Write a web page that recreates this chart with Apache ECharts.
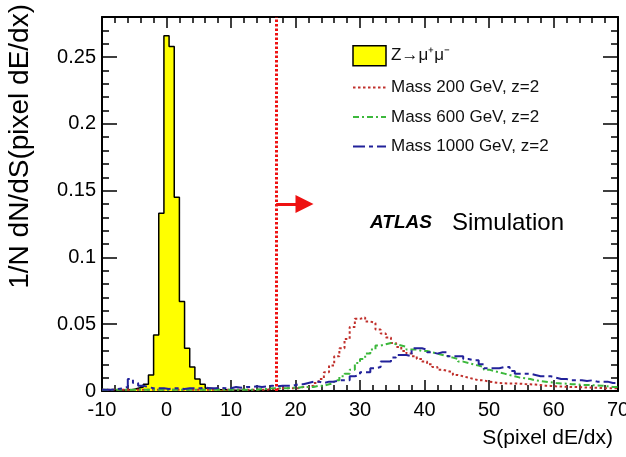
<!DOCTYPE html>
<html>
<head>
<meta charset="utf-8">
<script src="https://cdn.jsdelivr.net/npm/echarts@6/dist/echarts.min.js"></script>
<style>
  html, body { margin: 0; padding: 0; background: #fff; }
  #chart { width: 626px; height: 457px; }
</style>
</head>
<body>
<div id="chart"></div>
<script>
// binning: 100 bins of 0.8 from -10 to 70
const binLow = -10;
const binWidth = 0.8;

const zmumu = [
    0, 0, 0, 0.0005, 0.001, 0.001, 0.002, 0.003, 0.005, 0.012,
    0.042, 0.133, 0.266, 0.258, 0.145, 0.067, 0.032, 0.018, 0.009, 0.005,
    0.002, 0.0015, 0.001, 0.001, 0.0005, 0.0005, 0.0005, 0, 0.0005, 0,
    0, 0, 0, 0, 0, 0, 0, 0, 0, 0,
    0, 0, 0, 0, 0, 0, 0, 0, 0, 0,
    0, 0, 0, 0, 0, 0, 0, 0, 0, 0,
    0, 0, 0, 0, 0, 0, 0, 0, 0, 0,
    0, 0, 0, 0, 0, 0, 0, 0, 0, 0,
    0, 0, 0, 0, 0, 0, 0, 0, 0, 0,
    0, 0, 0, 0, 0, 0, 0, 0, 0, 0
];

const mass200 = [
    0.001, 0.001, 0.001, 0.001, 0.001, 0.001, 0.001, 0.001, 0.001, 0.001,
    0.001, 0.001, 0.001, 0.001, 0.001, 0.001, 0.001, 0.001, 0.001, 0.001,
    0.001, 0.001, 0.001, 0.001, 0.001, 0.001, 0.001, 0.001, 0.001, 0.001,
    0.001, 0.001, 0.0015, 0.0015, 0.002, 0.002, 0.002, 0.002, 0.003, 0.003,
    0.004, 0.006, 0.009, 0.014, 0.019, 0.026, 0.032, 0.039, 0.048, 0.054,
    0.055, 0.052, 0.051, 0.046, 0.043, 0.040, 0.036, 0.033, 0.030, 0.028,
    0.026, 0.024, 0.022, 0.020, 0.018, 0.016, 0.015, 0.014, 0.012, 0.011,
    0.010, 0.009, 0.008, 0.008, 0.007, 0.0065, 0.006, 0.0058, 0.0056, 0.0056,
    0.0055, 0.0052, 0.005, 0.0048, 0.0045, 0.004, 0.0038, 0.0035, 0.0033, 0.0032,
    0.003, 0.003, 0.0028, 0.0026, 0.0025, 0.0024, 0.0022, 0.002, 0.002, 0.002
];

const mass600 = [
    0.001, 0.001, 0.001, 0.001, 0.001, 0.001, 0.001, 0.001, 0.001, 0.001,
    0.001, 0.001, 0.001, 0.001, 0.001, 0.001, 0.001, 0.001, 0.001, 0.001,
    0.001, 0.001, 0.001, 0.001, 0.001, 0.001, 0.001, 0.001, 0.001, 0.001,
    0.0015, 0.0015, 0.002, 0.002, 0.002, 0.002, 0.0025, 0.0025, 0.003, 0.003,
    0.003, 0.004, 0.004, 0.005, 0.006, 0.008, 0.011, 0.013, 0.016, 0.021,
    0.024, 0.028, 0.031, 0.034, 0.035, 0.036, 0.035, 0.034, 0.033, 0.031,
    0.031, 0.030, 0.030, 0.029, 0.028, 0.027, 0.026, 0.025, 0.024, 0.022,
    0.021, 0.020, 0.019, 0.018, 0.016, 0.015, 0.014, 0.013, 0.012, 0.011,
    0.010, 0.0095, 0.009, 0.008, 0.0075, 0.007, 0.0065, 0.006, 0.0056, 0.0055,
    0.005, 0.005, 0.0046, 0.0045, 0.0043, 0.0042, 0.004, 0.0035, 0.003, 0.003
];

const mass1000 = [
    0.001, 0.001, 0.0015, 0.002, 0.003, 0.009, 0.006, 0.004, 0.003, 0.002,
    0.002, 0.002, 0.0015, 0.002, 0.002, 0.0015, 0.002, 0.002, 0.002, 0.0025,
    0.002, 0.002, 0.0025, 0.002, 0.002, 0.003, 0.0025, 0.003, 0.003, 0.0035,
    0.003, 0.0035, 0.004, 0.0035, 0.004, 0.004, 0.004, 0.005, 0.005, 0.006,
    0.007, 0.007, 0.006, 0.007, 0.007, 0.008, 0.008, 0.008, 0.011, 0.012,
    0.014, 0.014, 0.017, 0.018, 0.022, 0.022, 0.025, 0.027, 0.027, 0.026,
    0.032, 0.032, 0.031, 0.029, 0.028, 0.029, 0.029, 0.026, 0.026, 0.026,
    0.024, 0.023, 0.023, 0.020, 0.017, 0.017, 0.017, 0.018, 0.018, 0.015,
    0.013, 0.013, 0.013, 0.012, 0.011, 0.011, 0.011, 0.010, 0.009, 0.009,
    0.008, 0.008, 0.008, 0.0075, 0.008, 0.007, 0.007, 0.007, 0.006, 0.006
];

const seriesNames = ["Z→μ⁺μ⁻", "Mass 200 GeV, z=2", "Mass 600 GeV, z=2", "Mass 1000 GeV, z=2"];
const cutValue = 17;
const arrowY = 0.14;
const arrowEnd = 21.4;

const font = "Liberation Sans, Arial, Helvetica, sans-serif";

// step points at bin edges, last edge repeats the last value
const toSteps = (values) => {
    const points = values.map((v, i) => [binLow + i * binWidth, v]);
    points.push([binLow + values.length * binWidth, values[values.length - 1]]);
    return points;
};

const chart = echarts.init(document.getElementById("chart"), null, { renderer: "canvas" });

const frameLine = { show: true, onZero: false, lineStyle: { color: "#000", width: 2 } };

const xCommon = {
    type: "value",
    min: -10,
    max: 70,
    interval: 10,
    axisLine: frameLine,
    axisTick: { inside: true, length: 11, lineStyle: { color: "#000", width: 1.5 } },
    minorTick: { show: true, splitNumber: 5, length: 6, lineStyle: { color: "#000", width: 1.5 } },
    splitLine: { show: false }
};

const yMajor = {
    type: "value",
    min: 0,
    max: 0.28,
    interval: 0.05,
    axisLine: frameLine,
    axisTick: { inside: true, length: 15, lineStyle: { color: "#000", width: 1.5 } },
    splitLine: { show: false }
};

const yMinor = {
    type: "value",
    min: 0,
    max: 0.28,
    interval: 0.01,
    axisLine: { show: false, onZero: false },
    axisTick: { inside: true, length: 7, lineStyle: { color: "#000", width: 1.5 } },
    axisLabel: { show: false },
    splitLine: { show: false }
};

const lineSeries = (name, values, color, dash) => ({
    name,
    type: "line",
    step: "end",
    symbol: "none",
    data: toSteps(values),
    lineStyle: { color, width: 2, type: dash },
    itemStyle: { color },
    z: 3
});

// line-only legend entries
const lineLegend = (name) => ({ name, itemStyle: { opacity: 0 } });

chart.setOption({
    animation: false,
    backgroundColor: "#fff",
    textStyle: { fontFamily: font },
    grid: { left: 102, right: 8, top: 17, bottom: 66, containLabel: false, outerBoundsMode: "none" },
    legend: {
        orient: "vertical",
        left: 352,
        top: 45,
        padding: 0,
        itemWidth: 33,
        itemHeight: 20,
        itemGap: 12.5,
        textStyle: { fontSize: 17, color: "#111", fontFamily: font },
        data: [
            { name: seriesNames[0], icon: "rect", itemStyle: { color: "#ffff00", borderColor: "#000", borderWidth: 1.5 } },
            lineLegend(seriesNames[1]),
            lineLegend(seriesNames[2]),
            lineLegend(seriesNames[3])
        ]
    },
    xAxis: [
        {
            ...xCommon,
            position: "bottom",
            axisLabel: { color: "#000", fontSize: 20, margin: 9, fontFamily: font },
            name: "S(pixel dE/dx)",
            nameLocation: "end",
            nameGap: -5,
            nameTextStyle: { color: "#000", fontSize: 21, align: "right", verticalAlign: "top", padding: [37, 0, 0, 0], fontFamily: font }
        },
        { ...xCommon, position: "top", axisLabel: { show: false } }
    ],
    yAxis: [
        { ...yMajor, position: "left", axisLabel: { color: "#000", fontSize: 20, margin: 6, showMaxLabel: false, fontFamily: font } },
        { ...yMajor, position: "right", axisLabel: { show: false } },
        { ...yMinor, position: "left" },
        { ...yMinor, position: "right" }
    ],
    graphic: [
        {
            type: "text",
            x: 20,
            y: 4,
            rotation: Math.PI / 2,
            style: { text: "1/N dN/dS(pixel dE/dx)", fill: "#000", font: "28px " + font, textAlign: "right", textVerticalAlign: "middle" }
        },
        {
            type: "text",
            x: 370,
            y: 223,
            style: { text: "ATLAS", fill: "#000", font: "italic bold 19px " + font, textVerticalAlign: "middle" }
        },
        {
            type: "text",
            x: 452,
            y: 223,
            style: { text: "Simulation", fill: "#000", font: "24px " + font, textVerticalAlign: "middle" }
        }
    ],
    series: [
        {
            name: seriesNames[0],
            type: "line",
            step: "end",
            symbol: "none",
            data: toSteps(zmumu),
            lineStyle: { color: "#000", width: 1.5 },
            itemStyle: { color: "#ffff00" },
            areaStyle: { color: "#ffff00", opacity: 1 },
            z: 2
        },
        lineSeries(seriesNames[1], mass200, "#c0302c", [2.5, 2.5]),
        lineSeries(seriesNames[2], mass600, "#3cb83c", [6, 3, 2, 3]),
        lineSeries(seriesNames[3], mass1000, "#22229a", [12, 4, 4, 4]),
        {
            name: "cut",
            type: "line",
            data: [],
            z: 4,
            markLine: {
                silent: true,
                animation: false,
                label: { show: false },
                data: [
                    [
                        { coord: [cutValue, 0], symbol: "none", lineStyle: { color: "#ee1111", width: 3, type: [2.5, 2] } },
                        { coord: [cutValue, 0.28], symbol: "none" }
                    ],
                    [
                        { coord: [cutValue, arrowY], symbol: "none", lineStyle: { color: "#ee1111", width: 3, type: "solid" } },
                        { coord: [arrowEnd, arrowY], symbol: "triangle", symbolSize: 18 }
                    ]
                ]
            }
        }
    ]
});
</script>
</body>
</html>
